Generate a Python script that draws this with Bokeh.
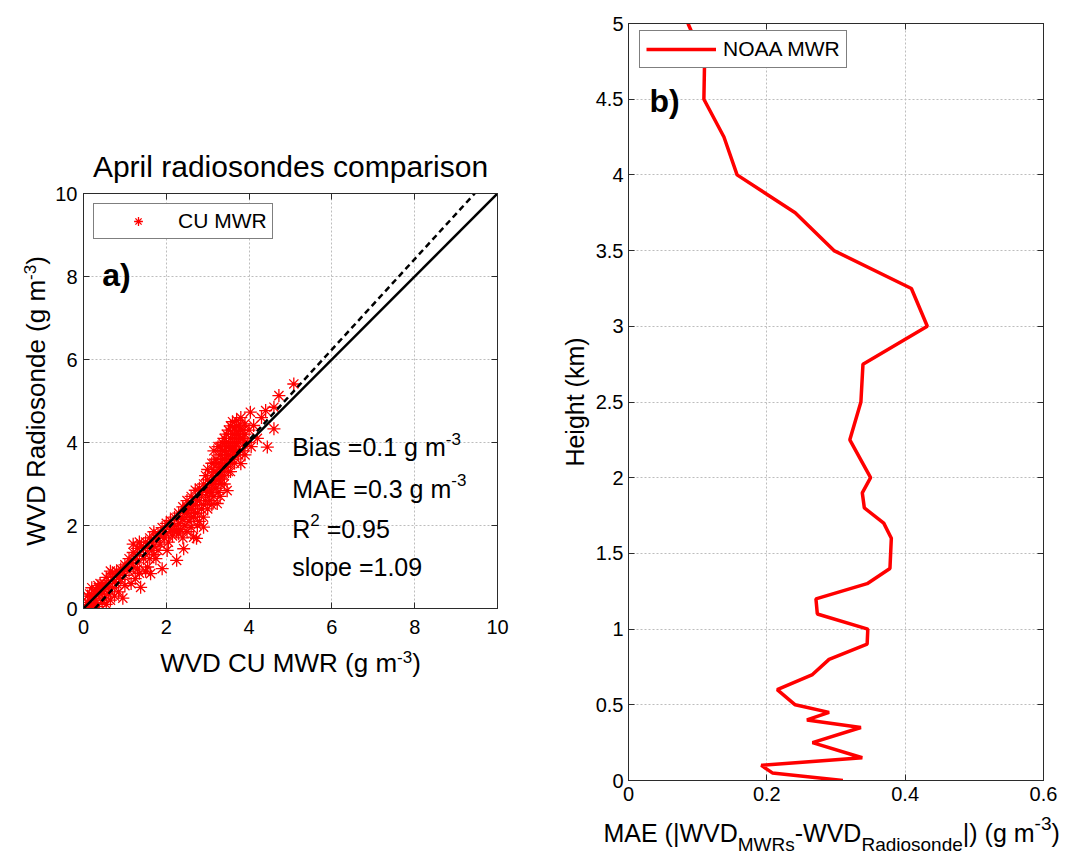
from bokeh.plotting import figure
from bokeh.models import Range1d, LinearAxis, FixedTicker, Legend, LegendItem
from bokeh.core.properties import value
from bokeh.embed import file_html
from bokeh.resources import INLINE

FONT = "Liberation Sans"
AX = "#2b2b2b"
GRID = "#bdbdbd"
MID = 0.3465  # distance (em) from baseline to the middle of the font box (Liberation Sans)

# ---------------- data: panel a) ----------------
cu_x = [0.05, 0.1, 0.15, 0.2, 0.25, 0.3, 0.3, 0.35, 0.4, 0.45, 0.5, 0.5, 0.55, 0.6, 0.6, 0.65, 0.7, 0.7, 0.75,
        0.8, 0.8, 0.85, 0.9, 0.9, 0.95, 1.0, 1.0, 1.0, 0.2, 0.15, 0.1, 0.4, 0.55, 0.12, 0.25, 0.45, 0.65, 0.35,
        0.15, 0.3, 0.45, 0.6, 0.75, 0.85, 0.95, 0.2, 0.5, 0.7,
        1.1, 1.1, 1.15, 1.2, 1.2, 1.25, 1.3, 1.3, 1.35, 1.38, 1.4, 1.45, 1.5, 1.5, 1.55, 1.6, 1.62, 1.65, 1.7,
        1.7, 1.75, 1.8, 1.85, 1.9, 1.9, 1.95, 2.0, 2.02, 2.0, 1.6, 1.2, 1.35,
        1.05, 1.15, 1.25, 1.35, 1.45, 1.55, 1.65, 1.75, 1.85, 1.95, 1.3, 1.5, 1.7, 1.8,
        2.05, 2.1, 2.1, 2.15, 2.2, 2.2, 2.25, 2.25, 2.3, 2.3, 2.35, 2.4, 2.4, 2.42, 2.45, 2.5, 2.5, 2.5, 2.55,
        2.6, 2.6, 2.6, 2.65, 2.66, 2.7, 2.7, 2.73, 2.75, 2.75, 2.8, 2.8, 2.8,
        2.1, 2.2, 2.3, 2.35, 2.45, 2.55, 2.6, 2.7, 2.75, 2.65, 2.5, 2.4,
        2.85, 2.85, 2.9, 2.9, 2.9, 2.95, 2.95, 3.0, 3.0, 3.0, 3.05, 3.05, 3.1, 3.1, 3.1, 3.1, 3.15, 3.15, 3.15,
        3.2, 3.2, 3.2, 3.23, 3.25, 3.25, 3.3, 3.3, 3.3, 3.3,
        3.35, 3.35, 3.35, 3.4, 3.4, 3.4, 3.4, 3.45, 3.45, 3.45, 3.47, 3.5, 3.5, 3.5, 3.5, 3.55, 3.55, 3.55, 3.6,
        3.6, 3.6, 3.6, 3.65, 3.65, 3.65, 3.7, 3.7, 3.7, 3.75, 3.75, 3.8, 3.8, 3.8, 3.85, 3.85, 3.9, 3.9, 3.95,
        4.0, 3.9,
        2.9, 2.95, 3.0, 3.05, 3.1, 3.15, 3.15, 3.2, 3.25, 3.25, 3.3, 3.3, 3.35, 3.35, 3.4, 3.4, 3.45, 3.45,
        3.5, 3.5, 3.55, 3.55, 3.6, 3.6, 3.65, 3.65, 3.7, 3.7, 3.75, 3.8, 3.85, 3.9, 3.75, 3.55, 3.65,
        4.03, 4.11, 4.2, 4.4, 4.44, 4.6, 4.6, 4.72, 5.08, 4.3, 4.05]
cu_y = [0.02, 0.15, 0.05, 0.3, 0.1, 0.45, 0.2, 0.05, 0.35, 0.55, 0.25, 0.45, 0.1, 0.6, 0.35, 0.2, 0.75, 0.5, 0.3,
        0.9, 0.6, 0.4, 0.95, 0.7, 0.25, 1.05, 0.8, 0.55, 0.5, 0.35, 0.3, 0.6, 0.75, 0.0, 0.0, 0.15, 0.9, 0.55,
        0.2, 0.35, 0.4, 0.5, 0.65, 0.75, 0.9, 0.12, 0.6, 0.85,
        1.2, 0.9, 0.6, 1.35, 1.0, 0.72, 1.45, 1.1, 0.85, 0.51, 1.5, 1.2, 1.6, 1.3, 1.0, 1.7, 0.84, 1.4, 1.85,
        1.5, 1.2, 1.8, 1.55, 0.96, 1.95, 1.7, 2.05, 1.4, 1.8, 1.2, 1.55, 1.6,
        1.0, 1.1, 1.2, 1.3, 1.45, 1.5, 1.6, 1.7, 1.75, 1.85, 0.95, 0.9, 1.3, 1.4,
        1.6, 2.12, 1.9, 1.75, 2.2, 2.0, 1.16, 1.85, 2.3, 2.05, 1.9, 2.45, 2.15, 1.44, 2.0, 2.6, 2.3, 1.85, 2.1,
        2.7, 2.4, 1.95, 2.2, 1.72, 2.85, 2.5, 1.69, 2.3, 2.0, 2.9, 2.6, 2.1,
        2.0, 1.9, 1.8, 2.2, 2.3, 2.4, 2.2, 2.3, 2.6, 2.5, 2.45, 1.7,
        2.4, 2.75, 3.0, 2.2, 1.96, 2.6, 3.2, 2.8, 2.4, 3.35, 3.0, 2.6, 3.5, 3.2, 2.8, 2.5, 3.8, 3.0, 2.7,
        3.6, 3.3, 2.9, 2.53, 3.9, 3.1, 3.7, 3.4, 3.0, 2.7,
        4.0, 3.6, 3.2, 4.1, 3.8, 3.4, 3.0, 4.2, 3.9, 3.5, 2.84, 4.3, 4.0, 3.7, 3.3, 4.4, 3.85, 3.5, 4.5,
        4.2, 3.9, 3.6, 4.35, 4.0, 3.7, 4.53, 4.2, 3.8, 4.4, 4.0, 4.6, 4.3, 3.49, 4.1, 3.8, 4.45, 4.2, 4.0,
        4.3, 3.7,
        2.5, 2.85, 3.1, 2.8, 3.0, 3.3, 3.5, 3.1, 3.5, 2.8, 3.2, 3.9, 3.4, 3.8, 3.6, 3.2, 3.7, 4.0,
        3.5, 3.9, 3.7, 4.1, 3.8, 4.0, 3.9, 4.2, 4.0, 4.4, 4.2, 4.1, 4.3, 4.0, 3.7, 3.3, 3.5,
        4.73, 4.41, 4.1, 4.77, 3.89, 4.85, 4.33, 5.13, 5.41, 4.6, 3.9]
fit_slope = 1.09
fit_intercept = -0.3
a_ticks = [0, 2, 4, 6, 8, 10]
a_title = "April radiosondes comparison"
a_legend = "CU MWR"
a_stats = [[("Bias =0.1 g m", 0), ("-3", 1)],
           [("MAE =0.3 g m", 0), ("-3", 1)],
           [("R", 0), ("2", 1), (" =0.95", 0)],
           [("slope =1.09", 0)]]
a_xlabel = [("WVD CU MWR (g m", 0), ("-3", 1), (")", 0)]
a_ylabel = [("WVD Radiosonde (g m", 0), ("-3", 1), (")", 0)]

# ---------------- data: panel b) ----------------
height_km = [0, 0.05, 0.1, 0.15, 0.25, 0.35, 0.4, 0.45, 0.5, 0.6, 0.7, 0.8, 0.9, 1.0, 1.1, 1.2, 1.3, 1.4,
             1.6, 1.7, 1.8, 1.9, 2.0, 2.25, 2.5, 2.75, 3.0, 3.25, 3.5, 3.75, 4.0, 4.25, 4.5, 4.75, 5.0]
mae_noaa = [0.310, 0.208, 0.192, 0.338, 0.266, 0.336, 0.258, 0.290, 0.241, 0.215, 0.266, 0.290, 0.345,
            0.346, 0.273, 0.271, 0.345, 0.378, 0.380, 0.369, 0.341, 0.338, 0.350, 0.320, 0.336, 0.339,
            0.432, 0.409, 0.297, 0.241, 0.157, 0.138, 0.109, 0.110, 0.086]
h_ticks = [0, 0.5, 1, 1.5, 2, 2.5, 3, 3.5, 4, 4.5, 5]
h_tick_labels = ["0", "0.5", "1", "1.5", "2", "2.5", "3", "3.5", "4", "4.5", "5"]
m_ticks = [0, 0.2, 0.4, 0.6]
m_tick_labels = ["0", "0.2", "0.4", "0.6"]
b_legend = "NOAA MWR"
b_ylabel = "Height (km)"
b_xlabel = [("MAE (|WVD", 0), ("MWRs", -1), ("-WVD", 0), ("Radiosonde", -1), ("|) (g m", 0),
            ("-3", 1), (")", 0)]

# Arial / Liberation Sans advance widths (1/1000 em) used to chain sub/superscript pieces
ARIAL = {' ': 278, '(': 333, ')': 333, '-': 333, '.': 278, '=': 584, '|': 260,
         'A': 667, 'B': 667, 'C': 722, 'D': 722, 'E': 667, 'H': 722, 'M': 833, 'N': 722, 'O': 778,
         'R': 722, 'S': 667, 'U': 722, 'V': 667, 'W': 944,
         'a': 556, 'c': 500, 'd': 556, 'e': 556, 'g': 556, 'h': 556, 'i': 222, 'k': 500, 'l': 222,
         'm': 833, 'n': 556, 'o': 556, 'p': 556, 'r': 333, 's': 500, 't': 278}


def tw(s, size):
    return sum(ARIAL.get(c, 556) for c in s) * size / 1000.0


def frame_style(p, xt, yt, xover=None, yover=None, xstand=8, ystand=6):
    p.background_fill_color = "white"
    p.border_fill_color = None
    p.outline_line_color = AX
    p.outline_line_width = 1
    for ax, t, ov, st in ((p.xaxis[0], xt, xover, xstand), (p.yaxis[0], yt, yover, ystand)):
        ax.ticker = FixedTicker(ticks=t)
        if ov:
            ax.major_label_overrides = ov
        ax.major_label_text_font = FONT
        ax.major_label_text_font_size = "20px"
        ax.major_label_text_color = "black"
        ax.major_label_standoff = st
        ax.major_tick_in = 6
        ax.major_tick_out = 0
        ax.major_tick_line_color = AX
        ax.minor_tick_line_color = None
        ax.axis_line_color = AX
    for place, t in (("above", xt), ("right", yt)):
        ax = LinearAxis(ticker=FixedTicker(ticks=t), major_label_text_font_size="0px",
                        major_label_text_color=None,
                        major_tick_in=6, major_tick_out=0, major_tick_line_color=AX,
                        minor_tick_line_color=None, axis_line_color=AX, major_label_standoff=0)
        p.add_layout(ax, place)
    for g, t in ((p.xgrid[0], xt), (p.ygrid[0], yt)):
        g.ticker = FixedTicker(ticks=t)
        g.grid_line_color = GRID
        g.grid_line_dash = "2 2"
        g.grid_line_width = 1


# ---------------- panel a (frame x 83..497, y 193..608) ----------------
p1 = figure(width=560, height=858, x_range=Range1d(0, 10), y_range=Range1d(0, 10),
            output_backend="svg", toolbar_location=None, name="pa",
            min_border_left=83, min_border_right=63, min_border_top=193, min_border_bottom=250)
frame_style(p1, a_ticks, a_ticks, xstand=11)

r_cu = p1.scatter(cu_x, cu_y, marker="asterisk", size=13, line_color="#ff0000", line_width=1.3)
p1.line([0, 10], [0, 10], line_color="black", line_width=2.5)
x_lo = -fit_intercept / fit_slope
x_hi = (10 - fit_intercept) / fit_slope
p1.line([x_lo, x_hi], [fit_slope * x_lo + fit_intercept, fit_slope * x_hi + fit_intercept],
        line_color="black", line_width=2.5, line_dash="6 4")

leg1 = Legend(items=[LegendItem(label=a_legend, renderers=[r_cu])], location=(10, 369),
              border_line_color="black", border_line_width=1, padding=5, margin=0, spacing=0,
              glyph_width=78, glyph_height=22, label_standoff=1, label_height=22,
              label_text_font=FONT, label_text_font_size="21px", label_text_color="black",
              background_fill_alpha=1)
p1.add_layout(leg1)

# ---------------- panel b (frame x 628..1043, y 23..780) ----------------
p2 = figure(width=511, height=858, x_range=Range1d(0, 0.6), y_range=Range1d(0, 5),
            output_backend="svg", toolbar_location=None, name="pb",
            min_border_left=68, min_border_right=28, min_border_top=23, min_border_bottom=78)
frame_style(p2, m_ticks, h_ticks,
            xover={v: s for v, s in zip(m_ticks, m_tick_labels)},
            yover={v: s for v, s in zip(h_ticks, h_tick_labels)}, xstand=6, ystand=5)

r_noaa = p2.line(mae_noaa, height_km, line_color="#ff0000", line_width=3.5)
leg2 = Legend(items=[LegendItem(label=b_legend, renderers=[r_noaa])], location=(11, 712),
              border_line_color="black", border_line_width=1, padding=6, margin=0, spacing=0,
              glyph_width=70, glyph_height=22, label_standoff=7, label_height=22,
              label_text_font=FONT, label_text_font_size="21px", label_text_color="black",
              background_fill_alpha=1)
p2.add_layout(leg2)

# ---------------- transparent text layer in page pixels ----------------
ov = figure(width=1071, height=858, x_range=Range1d(0, 1071), y_range=Range1d(858, 0),
            output_backend="svg", toolbar_location=None, name="ov",
            x_axis_type=None, y_axis_type=None, min_border=0)
ov.outline_line_color = None
ov.background_fill_color = None
ov.border_fill_color = None


def T(x, base, text, size, bold=False, align="left"):
    """Horizontal text whose baseline sits at page y = base."""
    ov.text(x=[x], y=[base - MID * size], text=[text], text_font=value(FONT),
            text_font_size=value("%gpx" % size), text_font_style="bold" if bold else "normal",
            text_color="black", text_align=align, text_baseline="middle")


def TV(base_x, y, text, size, align="left"):
    """Text rotated 90 deg (reads bottom->top) whose baseline sits at page x = base_x."""
    ov.text(x=[base_x - MID * size], y=[y], text=[text], text_font=value(FONT),
            text_font_size=value("%gpx" % size), text_color="black", text_align=align,
            text_baseline="middle", angle=1.5707963)


def chain(pieces, x0, base, main, small, shift_sup, shift_sub):
    """Horizontal run of pieces; level 1 = superscript, -1 = subscript."""
    xp = x0
    for txt, lvl in pieces:
        size = main if lvl == 0 else small
        dy = 0 if lvl == 0 else (-shift_sup if lvl > 0 else shift_sub)
        lead = len(txt) - len(txt.lstrip(" "))
        xp += tw(" " * lead, size)          # SVG drops leading blanks: advance by hand
        T(xp, base + dy, txt.lstrip(" "), size)
        xp += tw(txt.lstrip(" "), size)


def width_of(pieces, main, small):
    return sum(tw(t, main if l == 0 else small) for t, l in pieces)


# panel a texts
T(290, 176, a_title, 30, align="center")
T(101.7, 286, "a)", 32, bold=True)
for pieces, base in zip(a_stats, [455, 496.7, 536.7, 575]):
    chain(pieces, 291.7, base, 25, 17, 11, 0)
chain(a_xlabel, 290 - width_of(a_xlabel, 26, 17) / 2, 672, 26, 17, 10, 0)
yp = 400.5 + width_of(a_ylabel, 26, 17) / 2
for txt, lvl in a_ylabel:
    size = 26 if lvl == 0 else 17
    TV(45 if lvl == 0 else 35, yp, txt, size)
    yp -= tw(txt, size)

# panel b texts
T(649, 112, "b)", 32, bold=True)
TV(583, 401.5, b_ylabel, 25, align="center")
chain(b_xlabel, 603, 841, 25, 19, 11, 10)

TEMPLATE = """
{% block contents %}
<div style="position:relative;width:1071px;height:858px;overflow:hidden;">
  <div style="position:absolute;left:0px;top:0px;">{{ embed(roots.pa) }}</div>
  <div style="position:absolute;left:560px;top:0px;">{{ embed(roots.pb) }}</div>
  <div style="position:absolute;left:0px;top:0px;">{{ embed(roots.ov) }}</div>
</div>
{% endblock %}
"""

open("out.html", "w").write(file_html([p1, p2, ov], INLINE, template=TEMPLATE))
